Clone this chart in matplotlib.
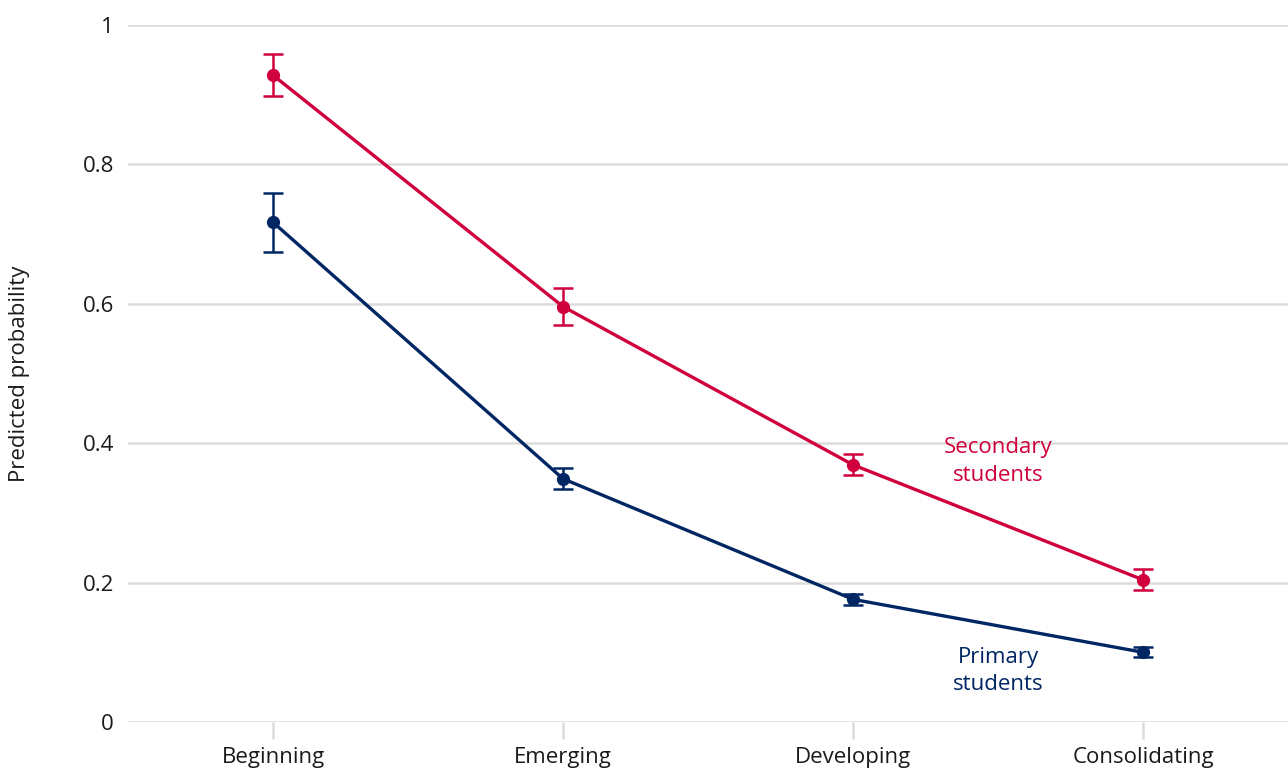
import matplotlib
matplotlib.use("Agg")
import matplotlib.pyplot as plt

categories = ["Beginning", "Emerging", "Developing", "Consolidating"]
secondary = [0.928, 0.596, 0.369, 0.204]
secondary_err = [0.030, 0.027, 0.015, 0.015]
primary = [0.717, 0.349, 0.176, 0.100]
primary_err = [0.042, 0.015, 0.008, 0.007]
yticks = [0, 0.2, 0.4, 0.6, 0.8, 1]
ytick_labels = ["0", "0.2", "0.4", "0.6", "0.8", "1"]

RED = "#D0003C"
NAVY = "#002664"
GRID = "#DCDCDC"
TEXT = "#1a1a1a"
FS = 16

plt.rcParams["font.family"] = ["Open Sans", "DejaVu Sans"]

fig = plt.figure(figsize=(12.88, 7.69), dpi=100)
ax = fig.add_axes([128 / 1288, 1 - 722 / 769, 1160 / 1288, 697 / 769])

x = list(range(len(categories)))
for vals, errs, col in [(secondary, secondary_err, RED), (primary, primary_err, NAVY)]:
    ax.errorbar(x, vals, yerr=errs, color=col, lw=2.4, marker="o", ms=8.5,
                elinewidth=1.8, capsize=7, capthick=1.8, zorder=3, clip_on=False)

ax.text(2.5, 0.374, "Secondary\nstudents", color=RED, ha="center", va="center",
        fontsize=FS, linespacing=1.4)
ax.text(2.5, 0.073, "Primary\nstudents", color=NAVY, ha="center", va="center",
        fontsize=FS, linespacing=1.4)

ax.set_xlim(-0.5, 3.5)
ax.set_ylim(0, 1)
ax.set_yticks(yticks)
ax.set_yticklabels(ytick_labels)
ax.set_xticks(x)
ax.set_xticklabels(categories)
ax.yaxis.grid(True, color=GRID, lw=1.8)
ax.set_axisbelow(True)
for s in ax.spines.values():
    s.set_visible(False)
ax.tick_params(axis="y", length=0, pad=10, labelsize=FS, labelcolor=TEXT)
ax.tick_params(axis="x", length=12, width=1.8, color=GRID, pad=6, labelsize=FS,
               labelcolor=TEXT)
ax.set_ylabel("Predicted probability", fontsize=FS, color=TEXT)
ax.yaxis.set_label_coords(-98 / 1160, 0.5)

fig.savefig("out.png", dpi=100)
